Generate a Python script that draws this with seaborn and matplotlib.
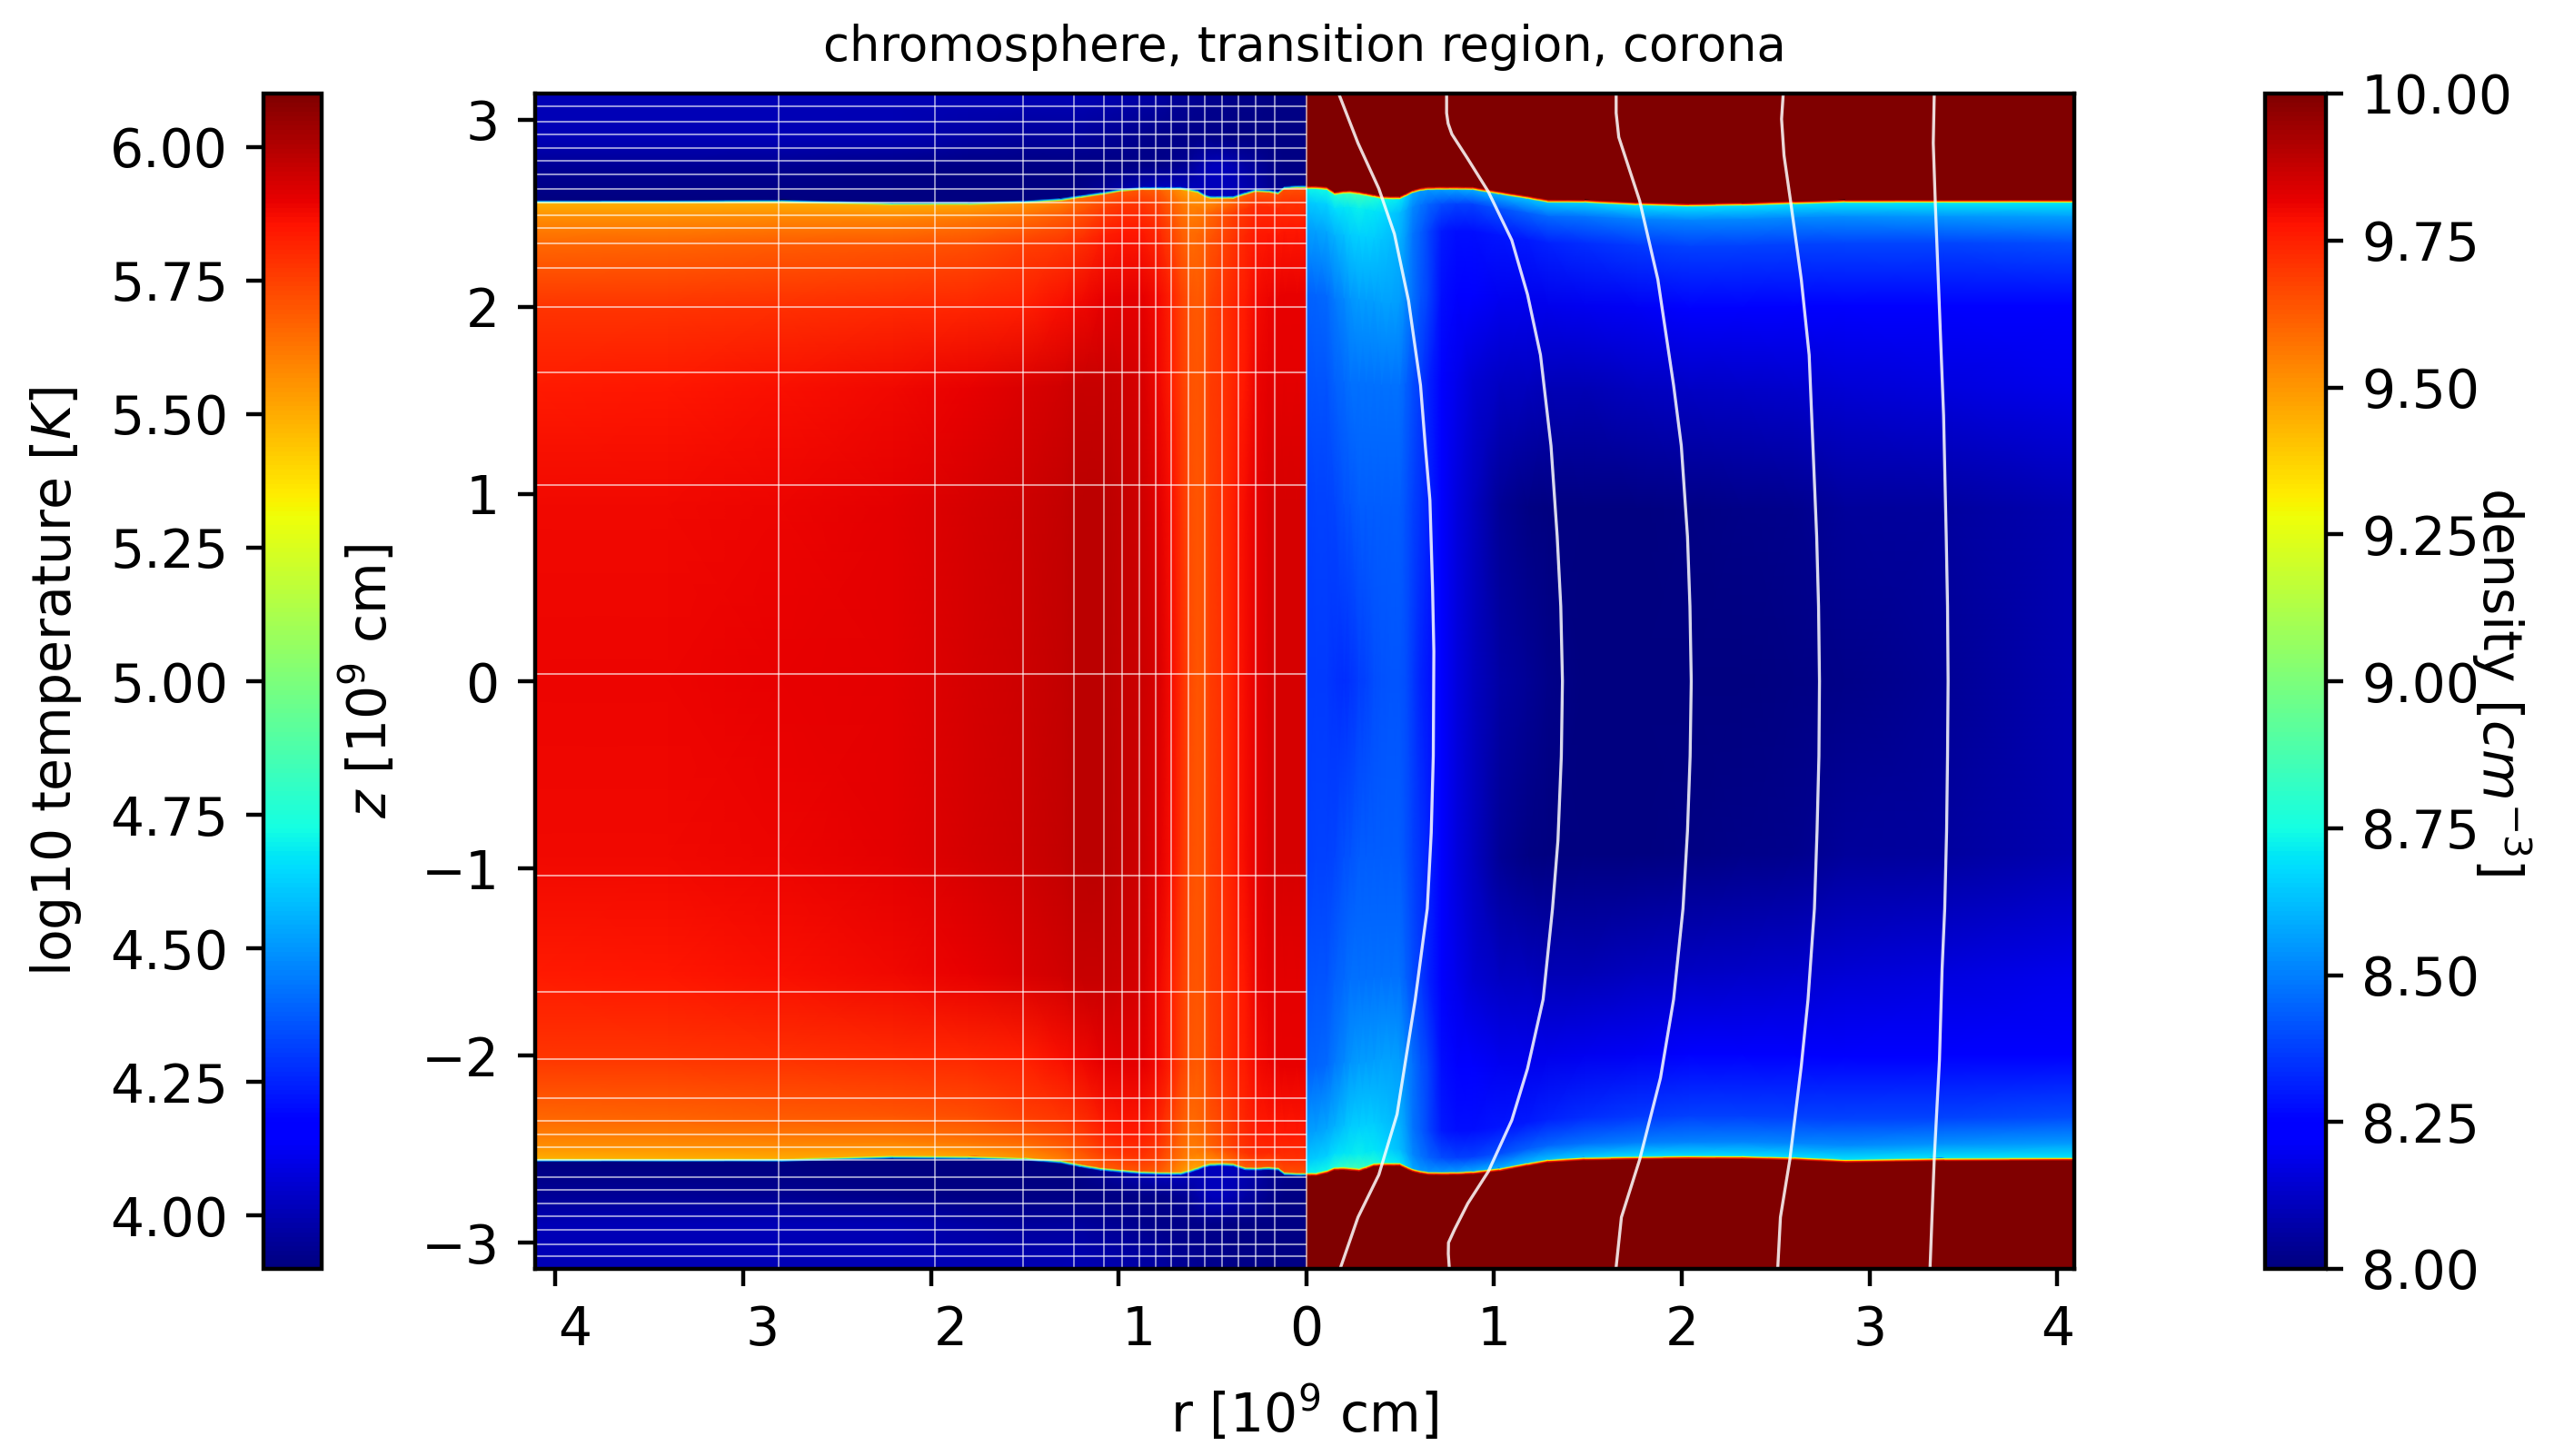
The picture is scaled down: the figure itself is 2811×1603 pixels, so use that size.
#!/usr/bin/env python3
# -*- coding: utf-8 -*-
import numpy as np
import matplotlib
matplotlib.use("Agg")
import matplotlib.pyplot as plt
from matplotlib.transforms import ScaledTranslation
import seaborn as sns

# ---------- axes ----------
r_lim = (-4.11, 4.09)
z_lim = (-3.14, 3.14)
r_ticks = [-4, -3, -2, -1, 0, 1, 2, 3, 4]
r_ticklabels = ['4', '3', '2', '1', '0', '1', '2', '3', '4']
z_ticks = [-3, -2, -1, 0, 1, 2, 3]
z_ticklabels = ['\u22123', '\u22122', '\u22121', '0', '1', '2', '3']
temp_ticks = [4.00, 4.25, 4.50, 4.75, 5.00, 5.25, 5.50, 5.75, 6.00]
dens_ticks = [8.00, 8.25, 8.50, 8.75, 9.00, 9.25, 9.50, 9.75, 10.00]

# ---------- rows that follow the surface, mid plane to surface ----------
row_frac = [0, 0.36, 0.61, 0.78, 0.91, 0.965, 0.993, 1, 1, 1]
row_offset = [0, 0, 0, 0, 0, 0, 0, -0.012, -0.006, 0.001]

# ---------- temperature, left half ----------
r_temp = [4.11, 3.4, 2.8, 2.2, 1.8, 1.5, 1.31, 1.2, 1.09, 0.98, 0.87, 0.78, 0.72, 0.67,
          0.62, 0.58, 0.54, 0.51, 0.45, 0.39, 0.325, 0.27, 0.2, 0.15, 0.117, 0.05, 0.0]
temp_surf_top = [2.568, 2.568, 2.571, 2.558, 2.559, 2.568, 2.580, 2.597, 2.613, 2.632, 2.640, 2.640, 2.640, 2.640,
                 2.632, 2.624, 2.600, 2.592, 2.592, 2.592, 2.613, 2.629, 2.625, 2.616, 2.643, 2.648, 2.648]
temp_surf_bot = [-2.569, -2.569, -2.569, -2.553, -2.556, -2.563, -2.578, -2.600, -2.618, -2.628, -2.637, -2.640, -2.641, -2.641,
                 -2.628, -2.615, -2.600, -2.594, -2.592, -2.595, -2.615, -2.616, -2.613, -2.617, -2.642, -2.645, -2.645]
temp_half = [
    [5.89, 5.89, 5.90, 5.91, 5.93, 5.95, 5.97, 5.98, 5.98, 5.97, 5.95, 5.92, 5.87, 5.80, 5.73, 5.70, 5.72, 5.76, 5.79, 5.83, 5.87, 5.90, 5.92, 5.93, 5.93, 5.93, 5.93],
    [5.88, 5.88, 5.89, 5.91, 5.93, 5.95, 5.97, 5.98, 5.98, 5.97, 5.94, 5.91, 5.86, 5.79, 5.72, 5.70, 5.72, 5.76, 5.79, 5.83, 5.87, 5.90, 5.92, 5.93, 5.93, 5.93, 5.93],
    [5.84, 5.85, 5.86, 5.88, 5.90, 5.92, 5.94, 5.96, 5.96, 5.95, 5.92, 5.88, 5.83, 5.76, 5.71, 5.70, 5.72, 5.76, 5.78, 5.81, 5.85, 5.89, 5.91, 5.91, 5.91, 5.91, 5.91],
    [5.78, 5.78, 5.79, 5.80, 5.81, 5.83, 5.86, 5.88, 5.90, 5.91, 5.90, 5.87, 5.82, 5.75, 5.70, 5.69, 5.71, 5.75, 5.78, 5.81, 5.84, 5.87, 5.89, 5.90, 5.90, 5.90, 5.90],
    [5.66, 5.67, 5.68, 5.70, 5.72, 5.75, 5.77, 5.79, 5.83, 5.85, 5.84, 5.80, 5.74, 5.68, 5.65, 5.66, 5.68, 5.71, 5.74, 5.78, 5.81, 5.84, 5.85, 5.85, 5.85, 5.85, 5.85],
    [5.57, 5.57, 5.58, 5.60, 5.62, 5.65, 5.68, 5.71, 5.75, 5.78, 5.78, 5.74, 5.68, 5.63, 5.60, 5.61, 5.63, 5.67, 5.71, 5.75, 5.78, 5.80, 5.80, 5.80, 5.79, 5.79, 5.79],
    [5.49, 5.49, 5.50, 5.50, 5.52, 5.55, 5.60, 5.65, 5.68, 5.70, 5.70, 5.68, 5.62, 5.55, 5.52, 5.52, 5.55, 5.55, 5.60, 5.65, 5.68, 5.70, 5.70, 5.72, 5.72, 5.72, 5.72],
    [5.15] * 27,
    [4.55] * 27,
    [3.90, 3.90, 3.90, 3.90, 3.90, 3.90, 3.90, 3.92, 3.95, 3.97, 4.00, 4.02, 4.02, 4.02, 4.02, 4.02, 4.02, 4.02, 4.02, 4.02, 4.00, 3.98, 3.95, 3.94, 3.93, 3.92, 3.92],
    [3.95, 3.95, 3.94, 3.92, 3.91, 3.91, 3.91, 3.91, 3.91, 3.91, 3.92, 3.92, 3.93, 3.94, 3.96, 3.98, 4.00, 4.02, 4.02, 4.00, 3.97, 3.96, 3.93, 3.92, 3.91, 3.91, 3.91],
    [4.01, 4.01, 4.01, 4.00, 3.97, 3.96, 3.96, 3.96, 3.95, 3.94, 3.93, 3.92, 3.92, 3.92, 3.92, 3.92, 3.92, 3.92, 3.92, 3.91, 3.91, 3.91, 3.91, 3.91, 3.91, 3.91, 3.91],
    [4.01, 4.01, 4.01, 4.01, 4.01, 4.01, 4.01, 4.01, 4.00, 3.99, 3.98, 3.97, 3.96, 3.95, 3.95, 3.94, 3.94, 3.93, 3.93, 3.92, 3.92, 3.92, 3.91, 3.91, 3.91, 3.91, 3.91],
]
temp_caps = [2.75, 2.9, 3.14]

# ---------- density, right half ----------
r_dens = [0, 0.05, 0.108, 0.15, 0.2, 0.233, 0.28, 0.317, 0.36, 0.40, 0.45, 0.497, 0.53, 0.567, 0.61,
          0.65, 0.72, 0.80, 0.886, 1.03, 1.178, 1.289, 1.483, 1.761, 2.04, 2.32, 2.6, 2.87, 3.4, 4.09]
dens_surf_top = [2.645, 2.645, 2.640, 2.613, 2.620, 2.621, 2.615, 2.608, 2.600, 2.592, 2.590, 2.590, 2.605, 2.624, 2.635,
                 2.640, 2.641, 2.641, 2.640, 2.616, 2.592, 2.572, 2.571, 2.558, 2.551, 2.556, 2.564, 2.571, 2.571, 2.571]
dens_surf_bot = [-2.645, -2.645, -2.632, -2.615, -2.614, -2.617, -2.621, -2.610, -2.594, -2.592, -2.592, -2.592, -2.608, -2.624, -2.634,
                 -2.640, -2.641, -2.640, -2.636, -2.620, -2.592, -2.573, -2.562, -2.557, -2.554, -2.555, -2.561, -2.573, -2.566, -2.563]
dens_half = [
    [8.36, 8.36, 8.36, 8.35, 8.34, 8.35, 8.37, 8.38, 8.40, 8.41, 8.42, 8.42, 8.40, 8.36, 8.32, 8.29, 8.22, 8.17, 8.12, 8.07, 8.04, 8.02, 8.00, 8.00, 8.00, 8.00, 8.01, 8.02, 8.04, 8.09],
    [8.37, 8.38, 8.38, 8.39, 8.41, 8.42, 8.43, 8.43, 8.43, 8.43, 8.43, 8.43, 8.41, 8.38, 8.35, 8.32, 8.22, 8.17, 8.12, 8.04, 8.01, 8.00, 8.00, 8.00, 8.01, 8.02, 8.03, 8.05, 8.06, 8.09],
    [8.41, 8.42, 8.42, 8.44, 8.46, 8.47, 8.47, 8.47, 8.47, 8.47, 8.47, 8.47, 8.44, 8.40, 8.36, 8.32, 8.24, 8.19, 8.15, 8.12, 8.11, 8.10, 8.10, 8.11, 8.12, 8.13, 8.14, 8.15, 8.17, 8.19],
    [8.44, 8.45, 8.46, 8.49, 8.52, 8.54, 8.56, 8.56, 8.56, 8.57, 8.57, 8.56, 8.52, 8.47, 8.42, 8.38, 8.28, 8.25, 8.22, 8.20, 8.19, 8.19, 8.20, 8.21, 8.22, 8.22, 8.22, 8.23, 8.23, 8.24],
    [8.56, 8.57, 8.58, 8.60, 8.63, 8.65, 8.66, 8.66, 8.65, 8.64, 8.62, 8.60, 8.55, 8.48, 8.43, 8.39, 8.30, 8.28, 8.28, 8.29, 8.30, 8.32, 8.34, 8.36, 8.38, 8.38, 8.38, 8.39, 8.39, 8.40],
    [8.64, 8.65, 8.66, 8.68, 8.70, 8.71, 8.72, 8.71, 8.70, 8.68, 8.65, 8.62, 8.58, 8.52, 8.48, 8.45, 8.40, 8.38, 8.38, 8.41, 8.44, 8.46, 8.48, 8.50, 8.51, 8.52, 8.52, 8.53, 8.54, 8.56],
    [8.72, 8.73, 8.74, 8.78, 8.82, 8.84, 8.85, 8.82, 8.78, 8.74, 8.72, 8.70, 8.65, 8.58, 8.55, 8.54, 8.55, 8.56, 8.58, 8.60, 8.62, 8.63, 8.65, 8.68, 8.68, 8.68, 8.68, 8.69, 8.70, 8.70],
    [9.30] * 30,
    [9.75] * 30,
    [10.0] * 30,
    [10.0] * 30,
]
dens_caps = [3.14]

# ---------- white lines ----------
grid_r = [2.81, 1.98, 1.51, 1.24, 1.08, 0.98, 0.89, 0.80, 0.72, 0.63, 0.54, 0.45, 0.36, 0.27, 0.17]
grid_z = [3.07, 2.99, 2.92, 2.85, 2.78, 2.71, 2.63, 2.56, 2.49, 2.42, 2.34, 2.21, 2.00, 1.65, 1.05, 0.04,
          -1.04, -1.66, -2.02, -2.23, -2.35, -2.42, -2.49, -2.56, -2.65, -2.72, -2.79, -2.86, -2.93, -3.01, -3.07]

line1_r = [0.178, 0.275, 0.386, 0.469, 0.544, 0.608, 0.634, 0.658, 0.672, 0.679, 0.676, 0.665, 0.644, 0.580, 0.483, 0.386, 0.275, 0.183]
line1_z = [3.125, 2.875, 2.632, 2.390, 2.034, 1.581, 1.25, 0.967, 0.5, 0.159, -0.4, -0.81, -1.215, -1.70, -2.314, -2.637, -2.864, -3.13]
line2_r = [0.747, 0.747, 0.755, 0.775, 0.858, 0.969, 1.094, 1.178, 1.247, 1.303, 1.336, 1.355, 1.364, 1.358, 1.340, 1.311, 1.261, 1.178, 1.094, 0.969, 0.860, 0.789, 0.757, 0.756, 0.761]
line2_z = [3.125, 3.036, 2.98, 2.923, 2.794, 2.616, 2.357, 2.066, 1.743, 1.258, 0.773, 0.4, 0.0, -0.4, -0.85, -1.215, -1.70, -2.07, -2.346, -2.62, -2.79, -2.93, -3.0, -3.06, -3.13]
line3_r = [1.650, 1.650, 1.664, 1.775, 1.872, 1.956, 1.997, 2.030, 2.043, 2.050, 2.044, 2.030, 2.006, 1.956, 1.886, 1.775, 1.678, 1.650]
line3_z = [3.125, 3.036, 2.907, 2.568, 2.147, 1.581, 1.258, 0.773, 0.4, 0.0, -0.4, -0.80, -1.215, -1.70, -2.12, -2.557, -2.864, -3.13]
line4_r = [2.539, 2.531, 2.544, 2.581, 2.636, 2.678, 2.718, 2.728, 2.733, 2.730, 2.720, 2.706, 2.672, 2.636, 2.575, 2.525, 2.511]
line4_z = [3.125, 3.004, 2.810, 2.551, 2.147, 1.743, 0.773, 0.4, 0.0, -0.4, -0.80, -1.215, -1.70, -2.056, -2.557, -2.864, -3.13]
line5_r = [3.344, 3.339, 3.350, 3.372, 3.394, 3.408, 3.415, 3.418, 3.415, 3.410, 3.400, 3.386, 3.372, 3.344, 3.322]
line5_z = [3.125, 2.875, 2.551, 1.986, 1.420, 0.773, 0.4, 0.0, -0.4, -0.80, -1.215, -1.538, -2.023, -2.557, -3.13]


def full_table(half):
    half = np.array(half, dtype=float)
    return np.vstack([half[::-1], half[1:]])


def row_heights(top, bot, caps):
    frac = np.array(row_frac)[:, None]
    off = np.array(row_offset)[:, None]
    upper = frac * np.array(top) + off
    lower = frac * np.array(bot) - off
    n = upper.shape[1]
    upper = np.vstack([upper] + [[c] * n for c in caps])
    lower = np.vstack([lower] + [[-c] * n for c in caps])
    return np.vstack([upper[::-1], lower[1:]])


def place_mesh(mesh, xs, ys, table):
    # seaborn lays the cells out on a unit grid: put them on r,z vertices, smooth shaded
    xx = np.broadcast_to(np.array(xs), ys.shape)
    mesh._coordinates = np.dstack([xx, ys])
    mesh._shading = 'gouraud'
    mesh.set_array(table)


W, H = 2811.0, 1603.0
fig = plt.figure(figsize=(W / 400, H / 400), dpi=400)


def px_axes(x0, x1, y0, y1):
    return fig.add_axes([x0 / W, 1 - y1 / H, (x1 - x0) / W, (y1 - y0) / H])


ax = px_axes(588.5, 2283, 103, 1397)
cax_t = px_axes(290, 354, 103, 1397)
cax_d = px_axes(2493, 2560, 103, 1397)

temp_table = full_table(temp_half)
dens_table = full_table(dens_half)

sns.heatmap(temp_table, ax=ax, cbar_ax=cax_t, cmap='jet', vmin=3.9, vmax=6.1,
            xticklabels=False, yticklabels=False)
sns.heatmap(dens_table, ax=ax, cbar_ax=cax_d, cmap='jet', vmin=8, vmax=10,
            xticklabels=False, yticklabels=False)
mesh_t, mesh_d = ax.collections[0], ax.collections[1]
place_mesh(mesh_t, -np.array(r_temp), row_heights(temp_surf_top, temp_surf_bot, temp_caps), temp_table)
place_mesh(mesh_d, r_dens, row_heights(dens_surf_top, dens_surf_bot, dens_caps), dens_table)

# spines get hidden by heatmap
for s in ax.spines.values():
    s.set_visible(True)
    s.set_linewidth(0.8)
    s.set_zorder(5)

ax.hlines(grid_z, r_lim[0], 0, color='w', lw=0.35, alpha=0.6)
ax.vlines(-np.array(grid_r), z_lim[0], z_lim[1], color='w', lw=0.3, alpha=0.65)
ax.vlines([0], z_lim[0], z_lim[1], color='w', lw=0.3, alpha=0.65)

for lr, lz in [(line1_r, line1_z), (line2_r, line2_z), (line3_r, line3_z), (line4_r, line4_z), (line5_r, line5_z)]:
    sns.lineplot(x=lr, y=lz, ax=ax, sort=False, estimator=None, color='w', lw=0.6, alpha=0.85, legend=False)

ax.set_xlim(r_lim)
ax.set_ylim(z_lim)
ax.set_xticks(r_ticks)
ax.set_xticklabels(r_ticklabels)
ax.set_yticks(z_ticks)
ax.set_yticklabels(z_ticklabels)
ax.tick_params(axis='both', labelrotation=0, length=3.5, width=0.8, labelsize=10.5, bottom=True, left=True)

# labels left of r=0 sit a little right of their ticks in the original
nudge = ScaledTranslation(21.5 / 400, 0, fig.dpi_scale_trans)
for lbl in ax.get_xticklabels()[:4]:
    lbl.set_transform(lbl.get_transform() + nudge)

ax.set_title('chromosphere, transition region, corona', fontsize=9.5, pad=6.5)
# lineplot hid the labels because heatmap had emptied the tick labels
ax.set_xlabel(r'r [$10^9$ cm]', fontsize=10.5, visible=True)
ax.set_ylabel(r'$z$ [$10^9$ cm]', fontsize=10.5, visible=True)
ax.xaxis.set_label_coords(0.5, -0.098)
ax.yaxis.set_label_coords(-0.089, 0.5)

for mesh, cax, ticks in [(mesh_t, cax_t, temp_ticks), (mesh_d, cax_d, dens_ticks)]:
    cb = mesh.colorbar
    cb.outline.set_linewidth(0.8)
    cb.outline.set_edgecolor('k')
    cb.set_ticks(ticks)
    cb.set_ticklabels(['%.2f' % t for t in ticks])
    cax.tick_params(labelsize=10.5, length=3.5, width=0.8)

cax_t.yaxis.tick_left()
cax_t.yaxis.set_label_position('left')
cax_t.set_ylabel(r'log10 temperature [$K$]', fontsize=10.5)
cax_t.yaxis.set_label_coords(-3.1, 0.5)

cax_d.set_ylabel(r'density [$cm^{-3}$]', fontsize=10.5, rotation=270, va='center')
cax_d.yaxis.set_label_coords(3.87, 0.5)

fig.savefig('out.png', dpi=400)
